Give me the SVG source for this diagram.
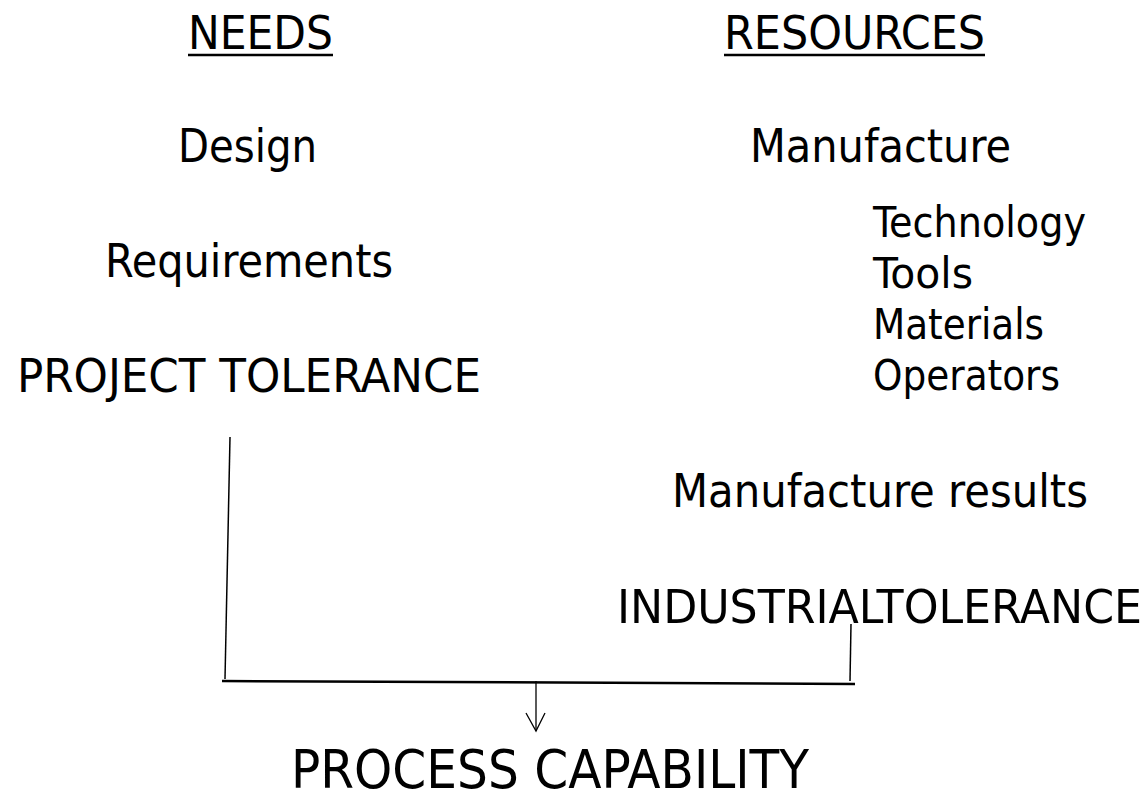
<svg xmlns="http://www.w3.org/2000/svg" width="1148" height="792" viewBox="0 0 1148 792">
  <style>
    text { font-family: "DejaVu Sans Condensed", "DejaVu Sans", "Liberation Sans", sans-serif; fill: #000; }
    .big { font-size: 47px; }
    .small { font-size: 42.7px; }
    .title { font-size: 53px; }
    .rule { stroke: #000; fill: none; stroke-linecap: butt; }
  </style>
  <rect width="1148" height="792" fill="#fff"/>

  <!-- column headings -->
  <g id="needs">
    <text class="big" x="188" y="49" textLength="145" lengthAdjust="spacingAndGlyphs">NEEDS</text>
    <line class="rule" x1="188" y1="55" x2="333" y2="55" stroke-width="2.5"/>
  </g>
  <g id="resources">
    <text class="big" x="724" y="49" textLength="261" lengthAdjust="spacingAndGlyphs">RESOURCES</text>
    <line class="rule" x1="724" y1="55" x2="985" y2="55" stroke-width="2.5"/>
  </g>

  <!-- needs column -->
  <g id="design">
    <text class="big" x="178" y="162" textLength="139" lengthAdjust="spacingAndGlyphs">Design</text>
  </g>
  <g id="requirements">
    <text class="big" x="105" y="277" textLength="288" lengthAdjust="spacingAndGlyphs">Requirements</text>
  </g>
  <g id="project-tolerance">
    <text class="big" x="17" y="392" textLength="464" lengthAdjust="spacingAndGlyphs">PROJECT  TOLERANCE</text>
  </g>

  <!-- resources column -->
  <g id="manufacture">
    <text class="big" x="750" y="162" textLength="261" lengthAdjust="spacingAndGlyphs">Manufacture</text>
  </g>
  <g id="factors">
    <text class="small" x="873" y="237" textLength="213" lengthAdjust="spacingAndGlyphs">Technology</text>
    <text class="small" x="873" y="288" textLength="100" lengthAdjust="spacingAndGlyphs">Tools</text>
    <text class="small" x="873" y="339" textLength="171" lengthAdjust="spacingAndGlyphs">Materials</text>
    <text class="small" x="873" y="390" textLength="187" lengthAdjust="spacingAndGlyphs">Operators</text>
  </g>
  <g id="manufacture-results">
    <text class="big" x="672" y="507" textLength="416" lengthAdjust="spacingAndGlyphs">Manufacture results</text>
  </g>
  <g id="industrial-tolerance">
    <text class="big" x="617" y="623" textLength="525" lengthAdjust="spacingAndGlyphs">INDUSTRIALTOLERANCE</text>
  </g>

  <!-- result -->
  <g id="process-capability">
    <text class="title" x="291" y="788" textLength="518" lengthAdjust="spacingAndGlyphs">PROCESS CAPABILITY</text>
  </g>

  <!-- connectors -->
  <g id="connectors">
    <line class="rule" x1="230" y1="437" x2="225" y2="679" stroke-width="1.5"/>
    <line class="rule" x1="851" y1="624" x2="850" y2="681" stroke-width="1.5"/>
    <line class="rule" x1="222" y1="681" x2="855" y2="684" stroke-width="2.5"/>
    <line class="rule" x1="536" y1="681" x2="536" y2="731" stroke-width="1.3"/>
    <polyline class="rule" points="526,713 536,731 545,713" stroke-width="1.3"/>
  </g>
</svg>
